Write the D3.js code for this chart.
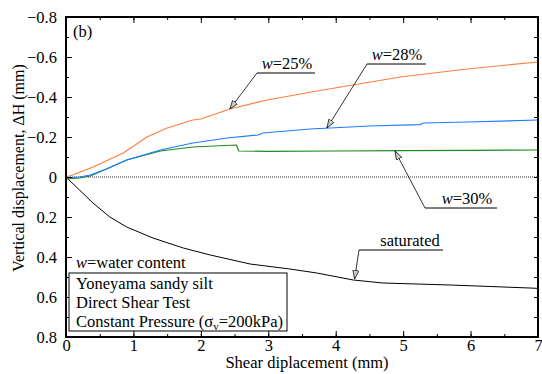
<!DOCTYPE html>
<html>
<head>
<meta charset="utf-8">
<script src="https://cdn.jsdelivr.net/npm/d3@7"></script>
<style>
  body { margin: 0; background: #fff; }
  svg text { font-family: "Liberation Serif", "DejaVu Serif", "Times New Roman", Times, serif; fill: #000; }
</style>
</head>
<body>
<script>
// data: [shear displacement (mm), vertical displacement (mm)]
var w25 = [[0,0],[0.1,-0.01],[0.4,-0.05],[0.85,-0.12],[1.2,-0.2],[1.5,-0.245],[1.88,-0.285],[2.0,-0.29],[2.43,-0.34],[2.98,-0.385],[3.81,-0.435],[4.96,-0.5],[5.95,-0.54],[7,-0.575]];
var w28 = [[0,0.005],[0.2,0],[0.36,-0.01],[0.6,-0.04],[0.9,-0.085],[1.4,-0.135],[1.88,-0.17],[2.39,-0.195],[2.85,-0.21],[2.92,-0.22],[3.62,-0.24],[4.5,-0.255],[5.25,-0.262],[5.3,-0.27],[5.95,-0.275],[7,-0.285]];
var w30 = [[0,0.01],[0.2,0.005],[0.36,-0.005],[0.6,-0.04],[0.9,-0.085],[1.4,-0.13],[1.88,-0.15],[2.2,-0.155],[2.53,-0.16],[2.56,-0.13],[3,-0.128],[4,-0.13],[5,-0.132],[6,-0.133],[7,-0.135]];
var saturated = [[0,0],[0.2,0.065],[0.4,0.13],[0.65,0.2],[0.9,0.25],[1.29,0.305],[1.74,0.355],[2.14,0.39],[2.73,0.435],[3.32,0.46],[3.72,0.48],[4.26,0.515],[4.7,0.53],[5.7,0.54],[6.88,0.555],[7,0.557]];

var xTicks = [0,1,2,3,4,5,6,7];
var yTicks = [-0.8,-0.6,-0.4,-0.2,0,0.2,0.4,0.6,0.8];
var legendLines = ["Yoneyama sandy silt", "Direct Shear Test"];

var width = 542, height = 374;
var margin = {top: 17, right: 4, bottom: 37, left: 66};
var serif = "'Liberation Serif', 'DejaVu Serif', serif";
var fs = 16.5;

var svg = d3.select("body").append("svg")
  .attr("width", width)
  .attr("height", height);

var x = d3.scaleLinear().domain([0, 7]).range([margin.left, width - margin.right]);
var y = d3.scaleLinear().domain([-0.8, 0.8]).range([margin.top, height - margin.bottom]);

// arrow marker
svg.append("defs").append("marker")
  .attr("id", "arr")
  .attr("viewBox", "0 -4 10 8")
  .attr("refX", 10).attr("refY", 0)
  .attr("markerWidth", 9).attr("markerHeight", 7)
  .attr("markerUnits", "userSpaceOnUse")
  .attr("orient", "auto")
  .append("path")
  .attr("d", "M0,-3.5L10,0L0,3.5Z")
  .attr("fill", "#ccc")
  .attr("stroke", "#000")
  .attr("stroke-width", 0.8);

// zero line
svg.append("line")
  .attr("x1", x(0)).attr("x2", x(7))
  .attr("y1", y(0)).attr("y2", y(0))
  .attr("stroke", "#000")
  .attr("stroke-width", 0.8)
  .attr("stroke-dasharray", "1,1");

var line = d3.line().x(function(d){ return x(d[0]); }).y(function(d){ return y(d[1]); });

svg.append("path").datum(saturated).attr("d", line)
  .attr("fill", "none").attr("stroke", "#000").attr("stroke-width", 1);
svg.append("path").datum(w30).attr("d", line)
  .attr("fill", "none").attr("stroke", "#1e8a1e").attr("stroke-width", 1.2);
svg.append("path").datum(w28).attr("d", line)
  .attr("fill", "none").attr("stroke", "#1a7cff").attr("stroke-width", 1.2);
svg.append("path").datum(w25).attr("d", line)
  .attr("fill", "none").attr("stroke", "#ff7f3f").attr("stroke-width", 1.2);

// axes, ticks pointing inward
var minorX = d3.range(0, 7.01, 0.5);
var minorY = d3.range(-0.8, 0.801, 0.1);

svg.append("g")
  .attr("transform", "translate(0," + y(0.8) + ")")
  .call(d3.axisBottom(x).tickValues(minorX).tickSize(-3).tickFormat(""));
svg.append("g")
  .attr("transform", "translate(0," + y(0.8) + ")")
  .call(d3.axisBottom(x).tickValues(xTicks).tickSize(-6).tickPadding(2).tickFormat(d3.format("d")));
svg.append("g")
  .attr("transform", "translate(0," + y(-0.8) + ")")
  .call(d3.axisTop(x).tickValues(minorX).tickSize(-3).tickFormat(""));
svg.append("g")
  .attr("transform", "translate(0," + y(-0.8) + ")")
  .call(d3.axisTop(x).tickValues(xTicks).tickSize(-6).tickFormat(""));

svg.append("g")
  .attr("transform", "translate(" + x(0) + ",0)")
  .call(d3.axisLeft(y).tickValues(minorY).tickSize(-3).tickFormat(""));
svg.append("g")
  .attr("transform", "translate(" + x(0) + ",0)")
  .call(d3.axisLeft(y).tickValues(yTicks).tickSize(-6).tickPadding(9)
    .tickFormat(function(d){ return d === 0 ? "0" : d3.format(".1f")(d); }));
svg.append("g")
  .attr("transform", "translate(" + x(7) + ",0)")
  .call(d3.axisRight(y).tickValues(minorY).tickSize(-4).tickFormat(""));

svg.selectAll("g").attr("font-family", null);
svg.selectAll(".domain").remove();
svg.selectAll(".tick line").attr("stroke", "#000").attr("stroke-width", 1);
svg.selectAll(".tick text")
  .attr("font-family", serif)
  .attr("font-size", 16.5)
  .attr("fill", "#000");

// frame
svg.append("rect")
  .attr("x", x(0)).attr("y", y(-0.8))
  .attr("width", x(7) - x(0)).attr("height", y(0.8) - y(-0.8))
  .attr("fill", "none").attr("stroke", "#000").attr("stroke-width", 2);

// axis titles
svg.append("text")
  .attr("x", 307).attr("y", 368)
  .attr("text-anchor", "middle")
  .attr("font-size", fs)
  .text("Shear diplacement (mm)");
svg.append("text")
  .attr("transform", "translate(24,168) rotate(-90)")
  .attr("text-anchor", "middle")
  .attr("font-size", 16)
  .text("Vertical displacement, \u0394H (mm)");

svg.append("text").attr("x", 73).attr("y", 37).attr("font-size", fs).text("(b)");

// leader annotations
function note(label, italicPart, tx, ty, ux1, ux2, uy, ax, ay) {
  var t = svg.append("text").attr("x", tx).attr("y", ty).attr("text-anchor", "middle").attr("font-size", fs);
  if (italicPart) t.append("tspan").attr("font-style", "italic").text(italicPart);
  t.append("tspan").text(label);
  svg.append("line").attr("x1", ux1).attr("x2", ux2).attr("y1", uy).attr("y2", uy)
    .attr("stroke", "#000").attr("stroke-width", 1);
  svg.append("line").attr("x1", ux1).attr("y1", uy).attr("x2", ax).attr("y2", ay)
    .attr("stroke", "#000").attr("stroke-width", 0.8)
    .attr("marker-end", "url(#arr)");
}
note("=25%", "w", 287, 69, 257, 315, 73, x(2.43), y(-0.34));
note("=28%", "w", 397, 60, 367, 426, 64, x(3.87), y(-0.245));
note("=30%", "w", 467, 204, 425, 497, 208, x(4.88), y(-0.13));
note("saturated", null, 410, 246, 359, 443, 250, x(4.28), y(0.51));

// legend box
svg.append("text").attr("x", 76).attr("y", 268).attr("font-size", fs)
  .call(function(t){
    t.append("tspan").attr("font-style", "italic").text("w");
    t.append("tspan").text("=water content");
  });
svg.append("rect")
  .attr("x", 69).attr("y", 273).attr("width", 218).attr("height", 58)
  .attr("fill", "#fff").attr("stroke", "#000").attr("stroke-width", 1);
svg.selectAll(".leg").data(legendLines).enter().append("text")
  .attr("x", 76).attr("y", function(d, i){ return 289 + i * 19; })
  .attr("font-size", fs)
  .text(function(d){ return d; });
svg.append("text").attr("x", 76).attr("y", 327).attr("font-size", fs)
  .call(function(t){
    t.append("tspan").text("Constant Pressure (\u03c3");
    t.append("tspan").attr("dy", 3).attr("font-size", 11).text("v");
    t.append("tspan").attr("dy", -3).text("=200kPa)");
  });
</script>
</body>
</html>
